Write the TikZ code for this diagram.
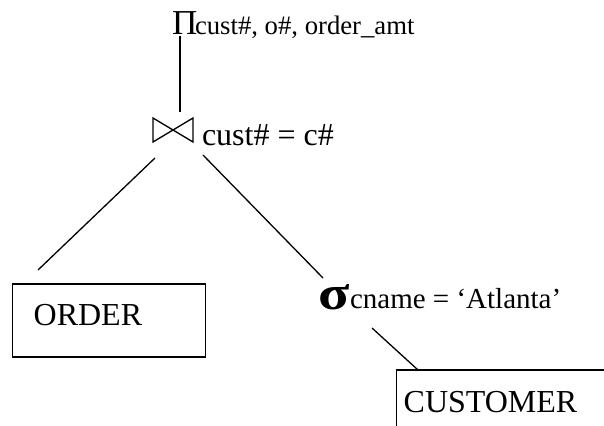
\documentclass[tikz,border=0pt]{standalone}
\usepackage{fontspec}
\setmainfont{Liberation Serif}
\begin{document}
\begin{tikzpicture}[x=1pt,y=-1pt,
  edge/.style={line width=1.3pt, black},
  lbl/.style={anchor=base west, inner sep=0pt, outer sep=0pt},
  relbox/.style={draw, line width=1.3pt, anchor=base west, inner xsep=#1, inner ysep=0pt, align=left},
  joinop/.style={inner sep=0pt, outer sep=0pt, minimum width=40pt, minimum height=24pt},
  big/.style={font=\fontsize{32}{32}\selectfont},
  small/.style={font=\fontsize{26.7}{27}\selectfont}]
\useasboundingbox (0,0) rectangle (604,425);
% projection
\node[lbl] (pi) at (172,35) {\fontsize{35}{35}\selectfont Π};
\node[lbl, small] (proj) at (195,35) {cust\#, o\#, order\_amt};
% join operator (bow tie)
\node[joinop] (join) at (173,130) {};
\draw[edge, line join=miter] (join.north west) -- (join.south west) -- (join.north east) -- (join.south east) -- cycle;
\node[lbl, big] (jcond) at (202,145) {cust\# = c\#};
% selection
\node[lbl] (sel) at (318,309) {\scalebox{1.2}[1]{\fontsize{48}{48}\selectfont\bfseries σ}};
\node[lbl, font=\fontsize{29}{29}\selectfont] (scond) at (350,308) {cname = ‘Atlanta’};
% relations
\node[relbox=21pt, big, text height=41pt, text depth=32pt, text width=151pt] (order) at (12,325) {ORDER};
\node[relbox=7pt, big, text height=42pt, text depth=40pt, text width=226pt] (cust) at (396,412) {CUSTOMER};
% connector end points
\coordinate (piB) at (180,36);
\coordinate (joinT) at (180,112);
\coordinate (joinL) at (155,158);
\coordinate (joinR) at (203,155);
\coordinate (orderT) at (38,270);
\coordinate (selT) at (323,278);
\coordinate (selB) at (372,328);
\coordinate (custT) at (418,370);
\draw[edge] (piB) -- (joinT);
\draw[edge] (joinL) -- (orderT);
\draw[edge] (joinR) -- (selT);
\draw[edge] (selB) -- (custT);
\end{tikzpicture}
\end{document}
